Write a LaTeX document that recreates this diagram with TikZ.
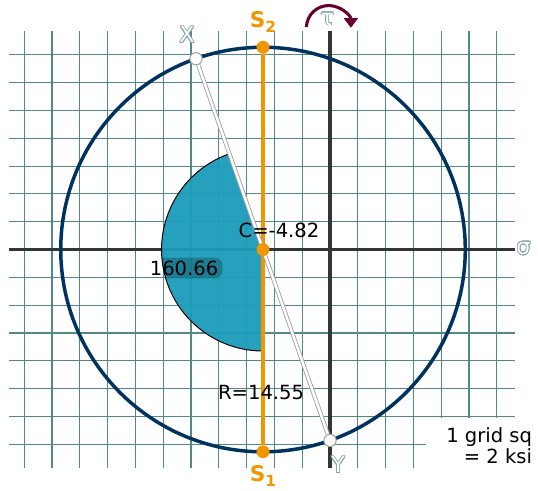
\documentclass[tikz,border=0pt]{standalone}
\usepackage{fontspec}
\setmainfont{DejaVu Sans}
\usepackage{contour}
\usetikzlibrary{arrows.meta}
\usetikzlibrary{positioning}
\usetikzlibrary{calc}
\definecolor{gridcol}{RGB}{82,136,136}
\definecolor{axiscol}{RGB}{52,54,54}
\definecolor{circcol}{RGB}{0,50,96}
\definecolor{princol}{RGB}{242,150,0}
\definecolor{sectcol}{RGB}{26,155,185}
\definecolor{rotcol}{RGB}{102,0,51}
\definecolor{ghostcol}{RGB}{130,160,160}
\contourlength{0.5pt}
\tikzset{basic point/.style={draw,circle,inner sep=0pt,minimum size=8.8pt}}
\tikzset{prin point/.style={basic point,draw=princol,fill=princol}}
\tikzset{face point/.style={basic point,draw=gray!70,fill=white,line width=0.8pt}}
\tikzset{grid line/.style={draw=gridcol,line width=0.8pt}}
\tikzset{axis/.style={draw=axiscol,line width=2.5pt}}
\tikzset{lbl/.style={font=\fontsize{14}{15}\selectfont,inner sep=1pt}}
\newcommand{\GHOST}[1]{\contour{ghostcol}{\textcolor{white}{#1}}}
\newcommand{\PSUB}[1]{\raisebox{-4pt}{\fontsize{11}{11}\selectfont #1}}

\begin{document}
\begin{tikzpicture}
      [
      x=0.35cm,y=0.35cm,
      mohr circle/.style={draw=circcol,line width=2.5pt},
      prin line/.style={draw=princol,line width=2.3pt},
      face line/.style={draw=gray!75,line width=0.6pt,double=white,double distance=1.8pt},
      sector/.style={fill=sectcol,fill opacity=0.95},
      prin label/.style={font=\fontsize{15.5}{16}\selectfont\bfseries,text=princol,inner sep=0pt},
      ghost label/.style={font=\fontsize{16}{17}\selectfont,inner sep=0pt},
      rot arrow/.style={draw=rotcol,line width=2.2pt,-{Triangle[length=7pt,width=10pt]}},
      ]
      \useasboundingbox (-23.74,-17.30) rectangle (14.96,17.95);

      % grid
      \foreach \i in {-22,-20,...,12}
      {
      \draw [grid line] (\i,-15.72) -- (\i,15.72);
      }
      \foreach \j in {-14,-12,...,14}
      {
      \draw [grid line] (-23.09,\j) -- (13.31,\j);
      }
      \fill [white] (6.9,-12.1) rectangle (14.96,-17.30);

      % axes
      \draw [axis] (-23.09,0) -- (13.31,0);
      \draw [axis] (0,-15.72) -- (0,15.72);

      % circle and angle
      \coordinate (C) at (-4.82,0);
      \draw [mohr circle] (C) circle [radius=14.55];
      \fill [sector] (C) -- ++(109.34:7.3) arc [start angle=109.34,end angle=270,radius=7.3] -- cycle;
      \node [lbl] (ang) at (-10.5,-1.33) {160.66};
      \begin{scope}
      \clip (C) -- ++(109.34:7.3) arc [start angle=109.34,end angle=270,radius=7.3] -- cycle;
      \fill [black,opacity=0.22,rounded corners=6pt] ($(ang.south west)+(0,-1pt)$) rectangle ($(ang.north east)+(2pt,1pt)$);
      \end{scope}
      \draw [black,line width=0.7pt] ($(C)+(109.34:7.3)$) arc [start angle=109.34,end angle=270,radius=7.3];

      % points
      \node [prin point] (S2) at ($(C)+(0,14.55)$) {};
      \node [prin point] (S1) at ($(C)+(0,-14.55)$) {};
      \node [face point] (X) at ($(C)+(109.34:14.55)$) {};
      \node [face point] (Y) at ($(C)+(-70.66:14.55)$) {};
      \draw [prin line] (S2) -- (S1);
      \draw [face line] (X) -- (Y);
      \node [prin point] (Cp) at (C) {};

      % labels
      \node [prin label] (S2lbl) at (-4.82,16.37) {S\PSUB{2}};
      \node [prin label] (S1lbl) at (-4.82,-16.30) {S\PSUB{1}};
      \node [ghost label] (Xlbl) at (-10.29,15.43) {\GHOST{X}};
      \node [ghost label] (Ylbl) at (0.58,-15.50) {\GHOST{Y}};
      \node [ghost label] (sig) at (13.92,0.05) {\GHOST{σ}};
      \node [ghost label] (tau) at (-0.2,16.55) {\GHOST{τ}};
      \draw [rot arrow] (-0.1,15.95) ++(178:1.6) arc [start angle=178,end angle=0,radius=1.6];

      \node [lbl] (Clbl) at (-3.67,1.40) {C=-4.82};
      \node [lbl] (Rlbl) at (-4.96,-10.32) {R=14.55};
      \node [lbl,align=right,anchor=east,inner sep=0pt] (note) at (14.55,-14.1) {1 grid sq\\= 2 ksi};

    \end{tikzpicture}
\end{document}
